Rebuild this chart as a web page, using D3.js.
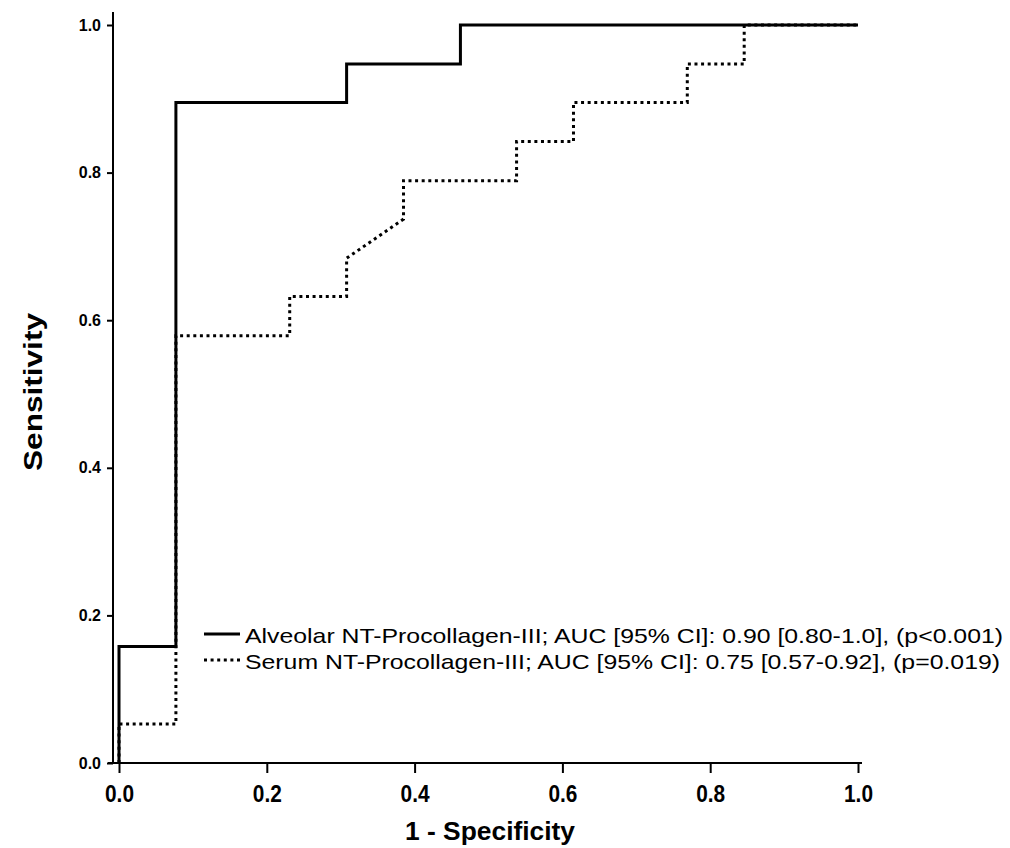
<!DOCTYPE html>
<html>
<head>
<meta charset="utf-8">
<script src="https://cdn.jsdelivr.net/npm/d3@7"></script>
<style>
  html, body { margin: 0; padding: 0; background: #fff; }
  svg { display: block; }
  text { font-family: "Liberation Sans", Arial, Helvetica, sans-serif; fill: #000; }
</style>
</head>
<body>
<svg id="chart" width="1010" height="848"></svg>
<script>
// ---- data ----
const alveolarFPR  = [0, 0, 0.077, 0.077, 0.308, 0.308, 0.462, 0.462, 1.0];
const alveolarSens = [0, 0.158, 0.158, 0.895, 0.895, 0.947, 0.947, 1.0, 1.0];

const serumFPR  = [0, 0, 0.077, 0.077, 0.231, 0.231, 0.308, 0.308, 0.385, 0.385, 0.538, 0.538, 0.615, 0.615, 0.769, 0.769, 0.846, 0.846, 1.0];
const serumSens = [0, 0.053, 0.053, 0.579, 0.579, 0.632, 0.632, 0.684, 0.737, 0.789, 0.789, 0.842, 0.842, 0.895, 0.895, 0.947, 0.947, 1.0, 1.0];

const xTicks = [0, 0.2, 0.4, 0.6, 0.8, 1.0];
const yTicks = [0, 0.2, 0.4, 0.6, 0.8, 1.0];
const xTitle = "1 - Specificity";
const yTitle = "Sensitivity";
const legendLabels = [
  "Alveolar NT-Procollagen-III; AUC [95% CI]: 0.90 [0.80-1.0], (p<0.001)",
  "Serum NT-Procollagen-III; AUC [95% CI]: 0.75 [0.57-0.92], (p=0.019)"
];

// ---- layout ----
const svg = d3.select("#chart");
const x = d3.scaleLinear().domain([0, 1]).range([119, 858]);
const y = d3.scaleLinear().domain([0, 1]).range([763, 25]);
const yAxisX = 113;

// axes lines
svg.append("line").attr("x1", yAxisX).attr("x2", yAxisX).attr("y1", 12).attr("y2", y(0))
  .attr("stroke", "#000").attr("stroke-width", 2);
svg.append("line").attr("x1", 108).attr("x2", 862).attr("y1", y(0)).attr("y2", y(0))
  .attr("stroke", "#000").attr("stroke-width", 2);

// y ticks & labels
const yAxis = d3.axisLeft(y).tickValues(yTicks).tickFormat(d3.format(".1f")).tickSize(6).tickPadding(6);
const gy = svg.append("g").attr("transform", `translate(${yAxisX},0)`).call(yAxis);
gy.attr("font-size", null).attr("font-family", null);
gy.select(".domain").remove();
gy.selectAll(".tick line").attr("stroke", "#000").attr("stroke-width", 2);
gy.selectAll(".tick text")
  .style("font-size", "16px").style("font-weight", "bold");

// x ticks & labels
const xAxis = d3.axisBottom(x).tickValues(xTicks).tickFormat(d3.format(".1f")).tickSize(10).tickPadding(13);
const gx = svg.append("g").attr("transform", `translate(0,${y(0)})`).call(xAxis);
gx.attr("font-size", null).attr("font-family", null);
gx.select(".domain").remove();
gx.selectAll(".tick line").attr("stroke", "#000").attr("stroke-width", 2);
gx.selectAll(".tick text")
  .style("font-size", "23px").style("font-weight", "bold")
  .attr("textLength", 29).attr("lengthAdjust", "spacingAndGlyphs");

// axis titles
svg.append("text").attr("x", 490).attr("y", 840).attr("text-anchor", "middle")
  .style("font-size", "25px").style("font-weight", "bold")
  .attr("textLength", 170).attr("lengthAdjust", "spacingAndGlyphs")
  .text(xTitle);
svg.append("text").attr("transform", "translate(42,392) rotate(-90)").attr("text-anchor", "middle")
  .style("font-size", "25px").style("font-weight", "bold")
  .attr("textLength", 158).attr("lengthAdjust", "spacingAndGlyphs")
  .text(yTitle);

// curves
const line = d3.line().x(d => x(d[0])).y(d => y(d[1]));
const alveolar = alveolarFPR.map((v, i) => [v, alveolarSens[i]]);
const serum = serumFPR.map((v, i) => [v, serumSens[i]]);

svg.append("path").datum(alveolar).attr("d", line)
  .attr("fill", "none").attr("stroke", "#000").attr("stroke-width", 3);
svg.append("path").datum(serum).attr("d", line)
  .attr("fill", "none").attr("stroke", "#000").attr("stroke-width", 3)
  .attr("stroke-dasharray", "3,3.6");

// legend
const legendY = [634, 660];
const legendStyles = [null, "3,3.6"];
const legendLens = [758, 755];
legendLabels.forEach((lab, i) => {
  svg.append("line").attr("x1", 204).attr("x2", 240).attr("y1", legendY[i]).attr("y2", legendY[i])
    .attr("stroke", "#000").attr("stroke-width", 3)
    .attr("stroke-dasharray", legendStyles[i]);
  svg.append("text").attr("x", 245).attr("y", legendY[i] + 9)
    .style("font-size", "21px")
    .attr("textLength", legendLens[i]).attr("lengthAdjust", "spacingAndGlyphs")
    .text(lab);
});
</script>
</body>
</html>
